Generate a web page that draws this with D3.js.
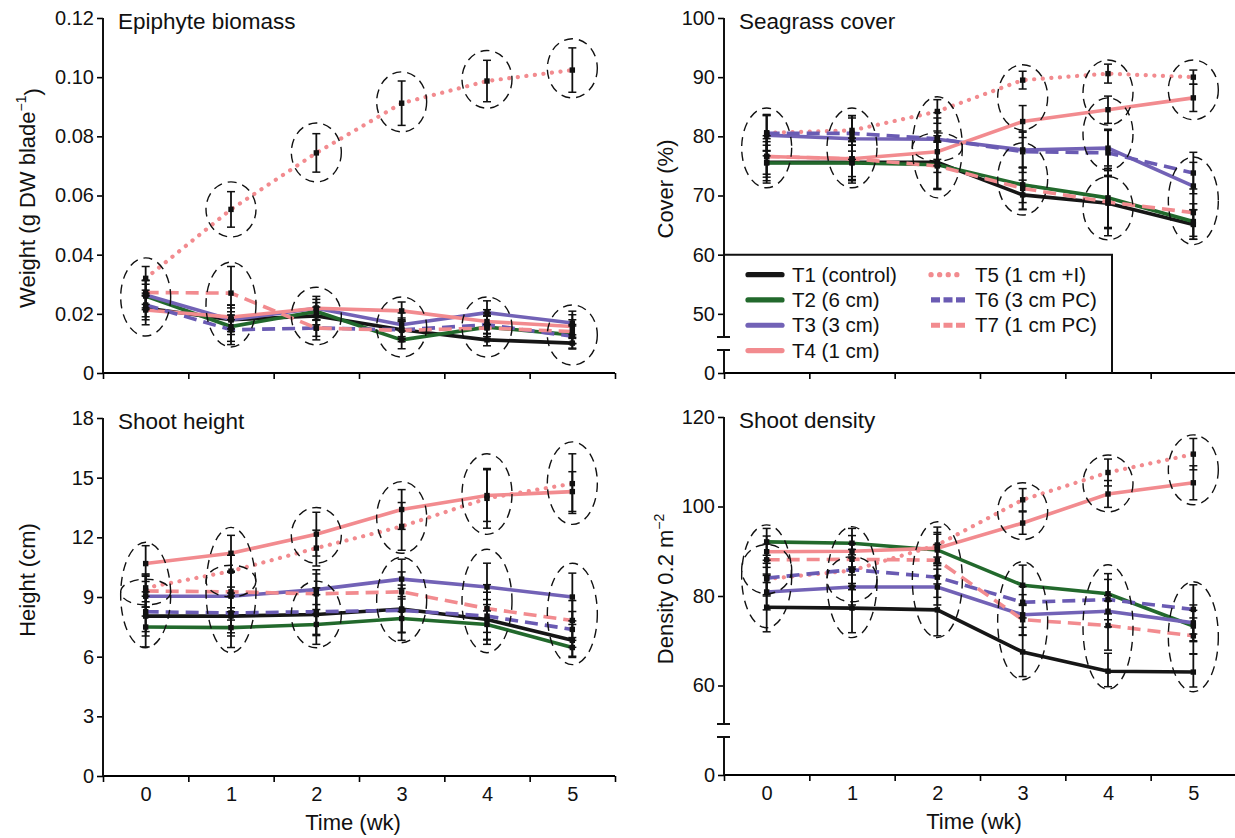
<!DOCTYPE html>
<html>
<head>
<meta charset="utf-8">
<script src="https://cdn.jsdelivr.net/npm/d3@7"></script>
<style>
    body { margin: 0; background: #fff; }
    svg { display: block; font-family: "Liberation Sans", Arial, Helvetica, sans-serif; }
</style>
</head>
<body>
<svg id="chart" width="1235" height="838"></svg>
<script>
var weeks = [0, 1, 2, 3, 4, 5];
var treatments = ['T1 (control)', 'T2 (6 cm)', 'T3 (3 cm)', 'T4 (1 cm)', 'T5 (1 cm +I)', 'T6 (3 cm PC)', 'T7 (1 cm PC)'];

// epiphyte biomass (g DW blade-1), one row per treatment
var epiphyteMean = [
    [0.022, 0.018, 0.0193, 0.0146, 0.0112, 0.0101],
    [0.026, 0.0157, 0.0208, 0.0112, 0.0155, 0.0129],
    [0.0264, 0.018, 0.0219, 0.0163, 0.0204, 0.0169],
    [0.0213, 0.0189, 0.0219, 0.021, 0.0174, 0.0157],
    [0.032, 0.0553, 0.0744, 0.0912, 0.0987, 0.1024],
    [0.023, 0.0146, 0.0152, 0.0146, 0.0163, 0.0124],
    [0.0272, 0.027, 0.0152, 0.0144, 0.0152, 0.014]
];
var epiphyteErr = [
    [0.004, 0.004, 0.003, 0.003, 0.002, 0.002],
    [0.004, 0.005, 0.003, 0.003, 0.004, 0.003],
    [0.005, 0.005, 0.004, 0.004, 0.004, 0.004],
    [0.005, 0.004, 0.003, 0.003, 0.004, 0.004],
    [0.004, 0.006, 0.0065, 0.0075, 0.007, 0.0075],
    [0.004, 0.005, 0.0028, 0.004, 0.004, 0.004],
    [0.004, 0.009, 0.004, 0.003, 0.004, 0.004]
];
var epiphyteGroups = [
    [0, 0.0125, 0.0389], [1, 0.0088, 0.0375], [1, 0.046, 0.0646],
    [2, 0.0095, 0.029], [2, 0.0646, 0.0845], [3, 0.0054, 0.0257], [3, 0.0815, 0.1018],
    [4, 0.0054, 0.0257], [4, 0.0895, 0.109], [5, 0.0027, 0.023], [5, 0.093, 0.113]
];
var epiphyteTicks = [0, 0.02, 0.04, 0.06, 0.08, 0.10, 0.12];

// seagrass cover (%)
var coverMean = [
    [75.6, 75.6, 75.6, 70.1, 68.7, 65.1],
    [75.5, 75.5, 75.2, 71.8, 69.6, 65.6],
    [80.2, 79.6, 79.5, 77.7, 78.0, 71.6],
    [76.6, 76.2, 77.4, 82.5, 84.5, 86.5],
    [80.6, 81.0, 84.2, 89.5, 90.6, 90.0],
    [80.5, 80.5, 79.6, 77.4, 77.2, 73.8],
    [76.6, 76.2, 75.0, 71.2, 68.9, 67.1]
];
var coverErr = [
    [3.5, 3.5, 4.5, 2.5, 5.5, 2.5],
    [3.0, 3.0, 4.0, 3.0, 5.0, 3.0],
    [3.5, 3.5, 4.5, 3.0, 3.0, 4.0],
    [3.0, 3.0, 3.5, 2.7, 2.3, 2.3],
    [3.0, 2.5, 2.0, 1.5, 1.6, 1.2],
    [3.0, 3.0, 3.5, 3.5, 4.0, 3.5],
    [3.5, 3.5, 4.0, 3.5, 4.5, 4.0]
];
var coverGroups = [
    [0, 71.3, 84.8], [1, 71.3, 84.8], [2, 69.6, 86.7], [2, 75.8, 80.6],
    [3, 81.1, 92.1], [3, 66.7, 78.9], [4, 81.9, 92.9], [4, 74.3, 86.5], [4, 62.5, 73.2],
    [5, 82.8, 92.9], [5, 61.7, 76.5]
];
var coverTicks = [0, 50, 60, 70, 80, 90, 100];

// shoot height (cm)
var heightMean = [
    [8.04, 8.04, 8.12, 8.4, 7.87, 6.82],
    [7.49, 7.46, 7.62, 7.92, 7.62, 6.46],
    [9.04, 9.04, 9.37, 9.9, 9.5, 9.0],
    [10.68, 11.2, 12.16, 13.4, 14.1, 14.3],
    [9.46, 10.3, 11.46, 12.55, 13.96, 14.7],
    [8.26, 8.2, 8.26, 8.33, 8.04, 7.37],
    [9.3, 9.26, 9.16, 9.26, 8.42, 7.82]
];
var heightErr = [
    [1.0, 1.0, 1.0, 1.2, 1.0, 0.8],
    [1.0, 1.0, 1.0, 1.1, 1.0, 0.5],
    [1.0, 1.2, 1.0, 1.0, 1.2, 1.2],
    [0.9, 0.9, 1.1, 1.0, 1.3, 1.0],
    [0.7, 0.8, 0.9, 1.2, 1.5, 1.5],
    [1.0, 1.0, 1.2, 1.1, 1.2, 0.9],
    [0.8, 1.0, 1.0, 1.0, 1.2, 1.0]
];
var heightGroups = [
    [0, 6.45, 11.75], [0, 8.6, 9.9], [1, 6.2, 12.5], [1, 9.0, 10.6],
    [2, 10.7, 13.5], [2, 6.45, 9.8], [3, 11.2, 14.8], [3, 6.7, 11.0],
    [4, 12.15, 16.2], [4, 6.2, 11.4], [5, 12.65, 16.8], [5, 5.6, 10.7]
];
var heightTicks = [0, 3, 6, 9, 12, 15, 18];

// shoot density (0.2 m-2)
var densityMean = [
    [77.5, 77.3, 76.9, 67.5, 63.2, 63.0],
    [92.1, 91.8, 90.3, 82.4, 80.5, 73.3],
    [80.9, 82.0, 82.0, 75.8, 76.6, 74.0],
    [89.9, 90.0, 90.7, 96.3, 102.8, 105.3],
    [83.8, 85.7, 91.4, 101.5, 107.6, 111.7],
    [84.0, 85.9, 84.2, 78.6, 79.2, 77.0],
    [88.1, 88.2, 88.0, 74.7, 73.4, 71.1]
];
var densityErr = [
    [5.5, 5.5, 5.8, 5.5, 4.0, 4.0],
    [3.0, 3.3, 3.5, 4.5, 4.5, 3.5],
    [4.0, 4.0, 4.0, 4.5, 3.5, 4.0],
    [3.5, 3.5, 3.5, 2.5, 3.0, 3.8],
    [3.5, 3.5, 4.0, 2.5, 3.0, 3.5],
    [4.0, 4.5, 4.5, 3.5, 4.5, 5.5],
    [3.5, 3.5, 3.5, 3.5, 5.5, 4.0]
];
var densityGroups = [
    [0, 72.9, 95.9], [0, 80.5, 91.5], [1, 70.7, 95.5], [1, 78.7, 88.8], [2, 70.7, 96.6],
    [3, 92.6, 105.3], [3, 61.3, 87.7], [4, 98.8, 111.5], [4, 57.5, 87.0],
    [5, 100.4, 116.0], [5, 55.8, 83.2]
];
var densityTicks = [0, 60, 80, 100, 120];

var styles = [
    {color: '#161616', dash: null},
    {color: '#22692c', dash: null},
    {color: '#7262b6', dash: null},
    {color: '#f28b8f', dash: null},
    {color: '#f28b8f', dash: '0.1 8.5'},
    {color: '#6a5bb3', dash: '13 7'},
    {color: '#f28b8f', dash: '13 7'}
];

var panels = [
    {title: 'Epiphyte biomass', yLabel: ['Weight (g DW blade', '\u22121', ')'], mean: epiphyteMean, err: epiphyteErr,
        groups: epiphyteGroups, ticks: epiphyteTicks, floor: 0, yMax: 0.12, left: 103, right: 615, top: 18, bottom: 373,
        labelAt: [27, 198], xLabels: false, fmt: function(d) { return d === 0 ? '0' : d.toFixed(2); }},
    {title: 'Seagrass cover', yLabel: ['Cover (%)'], mean: coverMean, err: coverErr,
        groups: coverGroups, ticks: coverTicks, floor: 40, yMin: 50, yMax: 100, breakAt: [43.9, 46.1],
        left: 724, right: 1236, top: 18, bottom: 373, labelAt: [665, 189], xLabels: false, legend: true,
        fmt: function(d) { return d; }},
    {title: 'Shoot height', yLabel: ['Height (cm)'], mean: heightMean, err: heightErr,
        groups: heightGroups, ticks: heightTicks, floor: 0, yMax: 18, left: 103, right: 615, top: 418, bottom: 776,
        labelAt: [27, 580], xLabels: true, fmt: function(d) { return d; }},
    {title: 'Shoot density', yLabel: ['Density 0.2 m', '\u22122', ''], mean: densityMean, err: densityErr,
        groups: densityGroups, ticks: densityTicks, floor: 40, yMin: 60, yMax: 120, breakAt: [48.5, 51.4],
        left: 724, right: 1236, top: 417, bottom: 775, labelAt: [665, 588], xLabels: true,
        fmt: function(d) { return d; }}
];

var svg = d3.select('#chart');

function drawPanel(p) {
    var g = svg.append('g');
    var x = d3.scaleLinear().domain([-0.5, 5.5]).range([p.left, p.right]);
    var lin = d3.scaleLinear().domain([p.floor, p.yMax]).range([p.bottom, p.top]);
    var y = lin;
    if(p.yMin !== undefined) {
        // broken axis: 0 sits where the floor value would be
        y = d3.scaleLinear().domain([0, p.yMin, p.yMax]).range([p.bottom, lin(p.yMin), p.top]);
    }

    // x axis: ticks between weeks
    var bounds = weeks.map(function(w) { return w - 0.5; }).concat([weeks[weeks.length - 1] + 0.5]);
    var xAxis = g.append('g').attr('transform', 'translate(0,' + p.bottom + ')')
        .call(d3.axisBottom(x).tickValues(bounds).tickSize(6).tickSizeOuter(0).tickFormat(''));
    xAxis.select('.domain').attr('stroke-width', 2).attr('d', 'M' + p.left + ',0H' + p.right);
    xAxis.selectAll('.tick line').attr('stroke-width', 1.6);

    if(p.xLabels) {
        var xl = g.append('g').attr('transform', 'translate(0,' + p.bottom + ')')
            .call(d3.axisBottom(x).tickValues(weeks).tickSize(0).tickPadding(11).tickFormat(d3.format('d')));
        xl.select('.domain').remove();
        xl.selectAll('text').attr('font-size', 20).attr('font-family', null).attr('fill', '#111');
        g.append('text').attr('x', (p.left + p.right) / 2 - 6).attr('y', p.bottom + 54)
            .attr('text-anchor', 'middle').attr('font-size', 22).attr('fill', '#111').text('Time (wk)');
    }

    // y axis
    var yAxis = g.append('g').attr('transform', 'translate(' + p.left + ',0)')
        .call(d3.axisLeft(y).tickValues(p.ticks).tickSize(6).tickPadding(3).tickSizeOuter(0).tickFormat(p.fmt));
    yAxis.select('.domain').remove();
    yAxis.selectAll('.tick line').attr('stroke-width', 1.6);
    yAxis.selectAll('text').attr('font-size', 20).attr('font-family', null).attr('fill', '#111');

    var axisColor = '#111';
    if(p.breakAt) {
        var b0 = lin(p.breakAt[0]), b1 = lin(p.breakAt[1]);
        g.append('path')
            .attr('d', 'M' + p.left + ',' + p.top + 'V' + b1 + 'M' + (p.left - 7) + ',' + b1 + 'H' + (p.left + 6) +
                'M' + (p.left - 7) + ',' + b0 + 'H' + (p.left + 6) + 'M' + p.left + ',' + b0 + 'V' + p.bottom)
            .attr('stroke', axisColor).attr('stroke-width', 2).attr('fill', 'none');
    } else {
        g.append('line').attr('x1', p.left).attr('x2', p.left).attr('y1', p.top).attr('y2', p.bottom)
            .attr('stroke', axisColor).attr('stroke-width', 2);
    }

    // titles
    g.append('text').attr('x', p.left + 15).attr('y', p.top + 11).attr('font-size', 22.5)
        .attr('fill', '#111').text(p.title);

    var yl = g.append('text')
        .attr('transform', 'translate(' + p.labelAt[0] + ',' + p.labelAt[1] + ') rotate(-90)')
        .attr('text-anchor', 'middle').attr('dy', '0.35em').attr('font-size', 22).attr('fill', '#111');
    yl.append('tspan').text(p.yLabel[0]);
    if(p.yLabel.length > 1) {
        yl.append('tspan').attr('font-size', 14).attr('dy', '-0.6em').text(p.yLabel[1]);
        yl.append('tspan').attr('dy', '0.6em').text(p.yLabel[2] || '\u200a');
    }

    // treatment lines
    var line = d3.line()
        .x(function(d, i) { return x(weeks[i]); })
        .y(function(d) { return y(d); });

    p.mean.forEach(function(series, i) {
        var s = styles[i];
        g.append('path').datum(series)
            .attr('d', line)
            .attr('fill', 'none')
            .attr('stroke', s.color)
            .attr('stroke-width', i === 4 ? 4.2 : 3.6)
            .attr('stroke-linecap', i === 4 ? 'round' : 'butt')
            .attr('stroke-dasharray', s.dash);
    });

    // error bars and means
    var bars = g.append('g').attr('stroke', '#111');
    p.mean.forEach(function(series, i) {
        series.forEach(function(m, j) {
            var cx = x(weeks[j]);
            var lo = y(m - p.err[i][j]), hi = y(m + p.err[i][j]);
            bars.append('line').attr('x1', cx).attr('x2', cx).attr('y1', lo).attr('y2', hi).attr('stroke-width', 1.8);
            bars.append('line').attr('x1', cx - 4).attr('x2', cx + 4).attr('y1', lo).attr('y2', lo).attr('stroke-width', 1.5);
            bars.append('line').attr('x1', cx - 4).attr('x2', cx + 4).attr('y1', hi).attr('y2', hi).attr('stroke-width', 1.5);
        });
    });
    p.mean.forEach(function(series, i) {
        series.forEach(function(m, j) {
            g.append('rect').attr('x', x(weeks[j]) - 2.7).attr('y', y(m) - 2.7)
                .attr('width', 5.4).attr('height', 5.4).attr('fill', '#111');
        });
    });

    // dashed ellipses around similar treatments
    g.selectAll('ellipse.group').data(p.groups).enter().append('ellipse')
        .attr('class', 'group')
        .attr('cx', function(d) { return x(d[0]); })
        .attr('cy', function(d) { return (y(d[1]) + y(d[2])) / 2; })
        .attr('rx', 25)
        .attr('ry', function(d) { return Math.abs(y(d[1]) - y(d[2])) / 2; })
        .attr('fill', 'none')
        .attr('stroke', '#111')
        .attr('stroke-width', 1.4)
        .attr('stroke-dasharray', '9 6');

    if(p.legend) {
        drawLegend(g, p, lin);
    }
}

function drawLegend(g, p, lin) {
    var boxTop = lin(60), boxRight = 1112;
    g.append('path').attr('d', 'M' + p.left + ',' + boxTop + 'H' + boxRight + 'V' + p.bottom)
        .attr('fill', 'none').attr('stroke', '#111').attr('stroke-width', 2);

    var rowGap = 25.3;
    treatments.forEach(function(name, i) {
        var col = i < 4 ? 0 : 1;
        var row = i < 4 ? i : i - 4;
        var x0 = col === 0 ? p.left + 24 : p.left + 207;
        var cy = boxTop + 20 + row * rowGap;
        var s = styles[i];
        g.append('line').attr('x1', x0).attr('x2', x0 + 34).attr('y1', cy).attr('y2', cy)
            .attr('stroke', s.color)
            .attr('stroke-width', 5.2)
            .attr('stroke-linecap', s.dash && i !== 4 ? 'butt' : 'round')
            .attr('stroke-dasharray', i === 4 ? '0.1 8.5' : (s.dash ? '9 3.5' : null));
        g.append('text').attr('x', x0 + 44).attr('y', cy).attr('dy', '0.35em')
            .attr('font-size', 20.5).attr('fill', '#111').text(name);
    });
}

panels.forEach(drawPanel);
</script>
</body>
</html>
